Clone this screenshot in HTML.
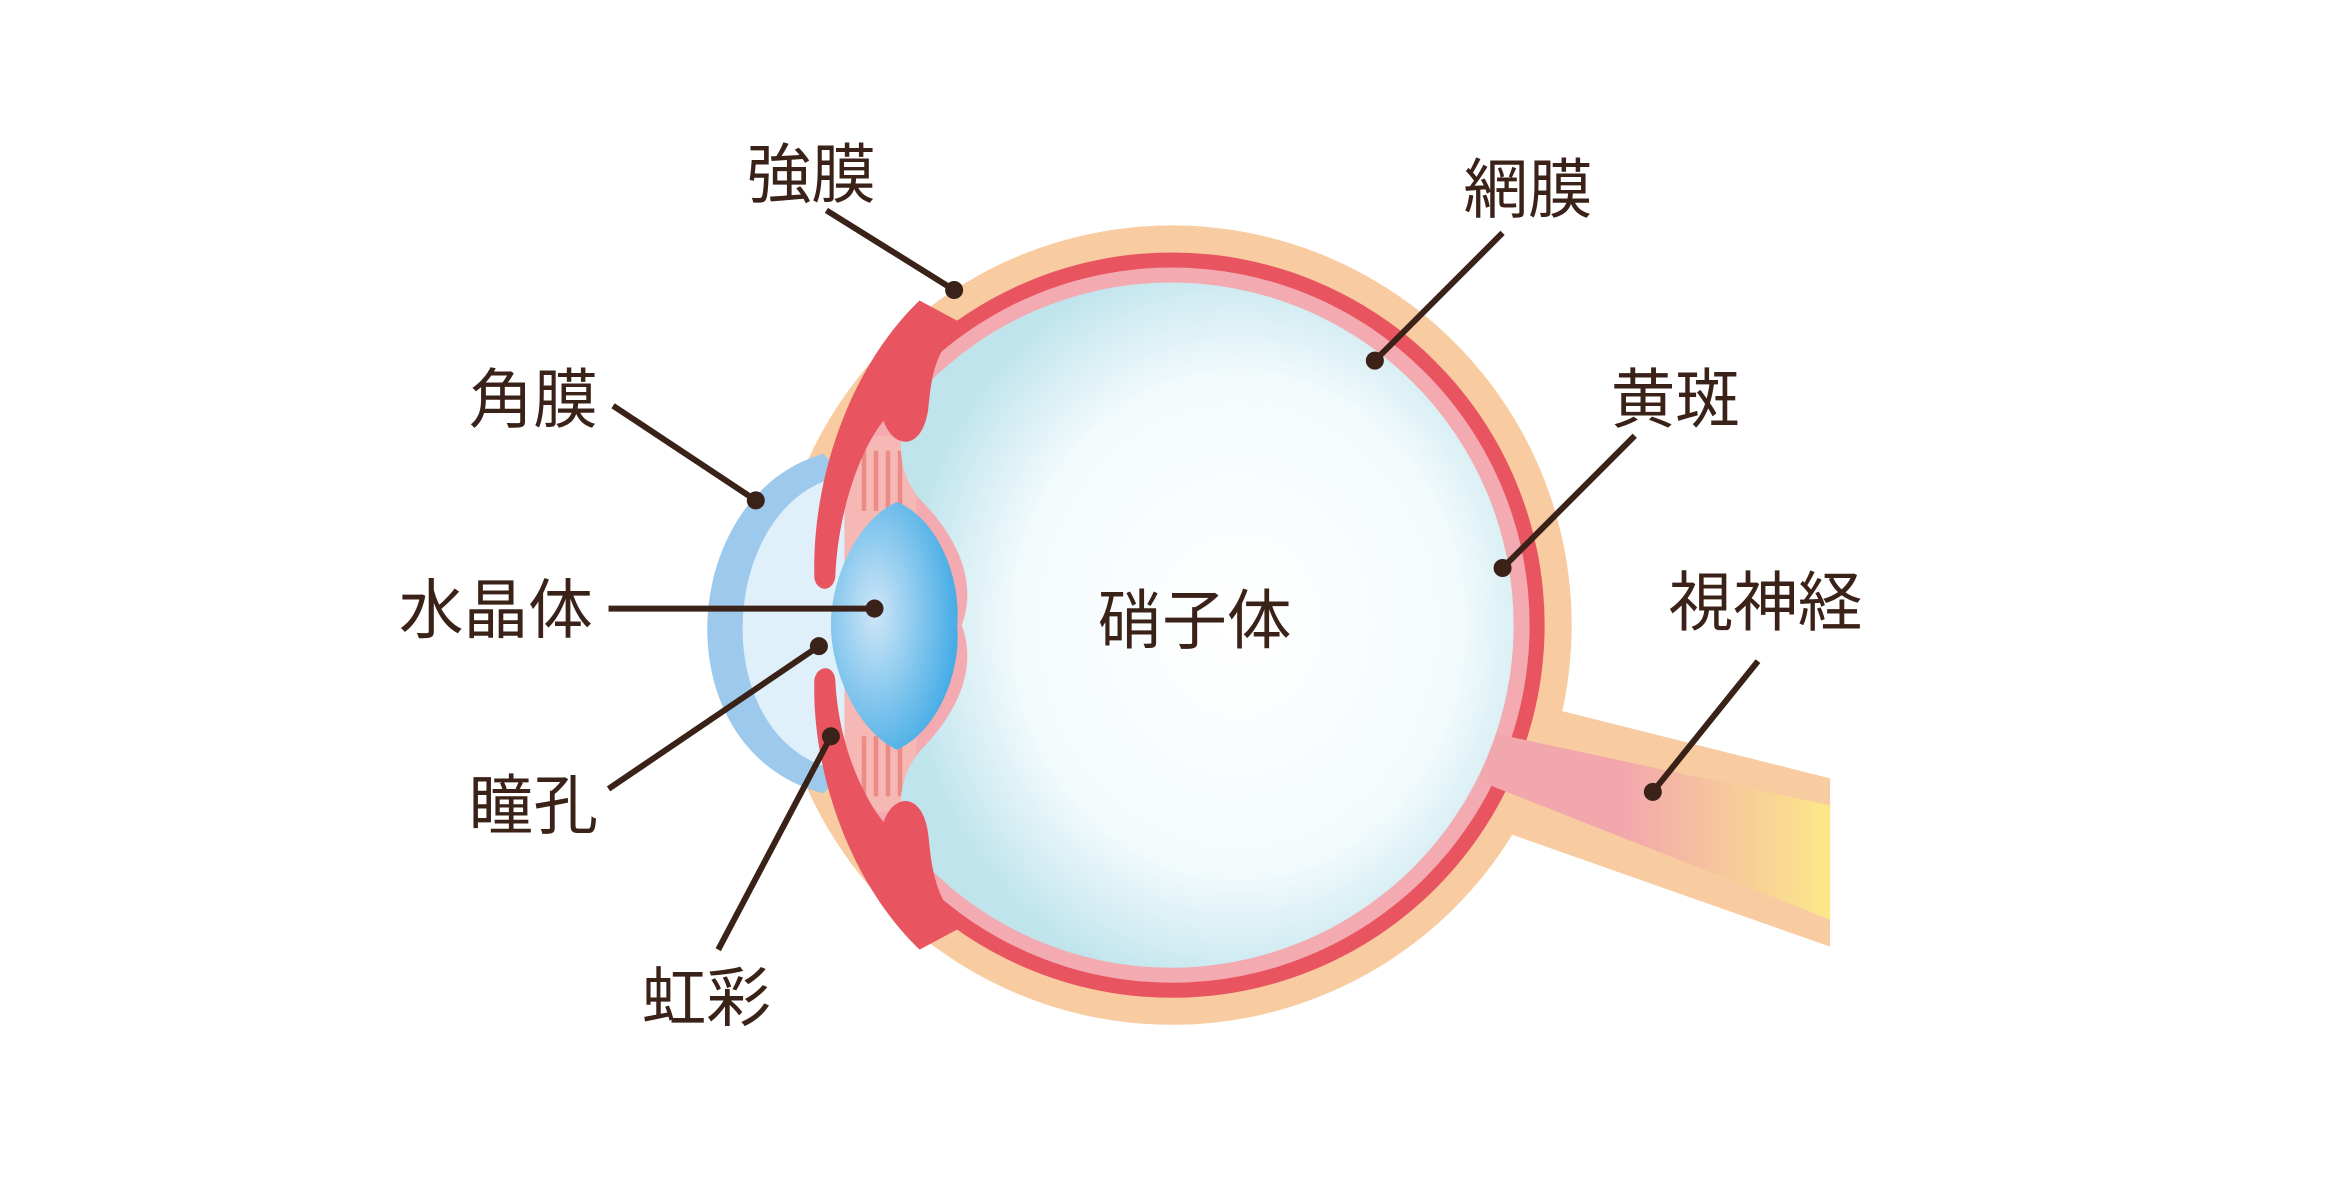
<!DOCTYPE html>
<html><head><meta charset="utf-8"><style>
html,body{margin:0;padding:0;background:#fff;}
svg{display:block}
text{font-family:"Liberation Sans","Noto Sans CJK JP",sans-serif;fill:#3a2218;font-size:43px}
</style></head><body>
<svg width="2344" height="1188" viewBox="0 0 1560 790.6" preserveAspectRatio="none">
<defs>
<radialGradient id="vit" cx="0.55" cy="0.5" r="0.55">
<stop offset="0" stop-color="#ffffff"/><stop offset="0.65" stop-color="#f4fbfd"/><stop offset="1" stop-color="#bfe4ec"/>
</radialGradient>
<radialGradient id="lens" cx="0.35" cy="0.45" r="0.65">
<stop offset="0" stop-color="#cfe6f7"/><stop offset="1" stop-color="#45ace6"/>
</radialGradient>
<linearGradient id="nerve" gradientUnits="userSpaceOnUse" x1="1080" y1="0" x2="1215" y2="0">
<stop offset="0" stop-color="#f2a7ad"/><stop offset="1" stop-color="#fbe78a"/>
</linearGradient>
</defs>
<!-- optic nerve -->
<polygon points="995,462 1218,518 1218,630 985,548" fill="#f8cca0"/>
<!-- sclera -->
<circle cx="780" cy="416" r="266" fill="#f8cca0"/>
<circle cx="780" cy="416" r="248" fill="#e85560"/>
<circle cx="780" cy="416" r="238" fill="#f3aab0"/>
<polygon points="985,486 1218,536 1218,612 985,520" fill="url(#nerve)"/>
<!-- front region -->
<path d="M560,290 L610,290 L610,540 L560,540 Z" fill="#f5b8b5"/>
<g stroke="#ec8a85" stroke-width="3">
<line x1="575" y1="300" x2="575" y2="340"/><line x1="583" y1="300" x2="583" y2="340"/><line x1="591" y1="300" x2="591" y2="340"/><line x1="599" y1="300" x2="599" y2="340"/>
<line x1="575" y1="490" x2="575" y2="530"/><line x1="583" y1="490" x2="583" y2="530"/><line x1="591" y1="490" x2="591" y2="530"/><line x1="599" y1="490" x2="599" y2="530"/>
</g>
<!-- vitreous -->
<path d="M615,258 A228,228 0 1 1 615,574 C595,547 595,522 612,500 C640,472 650,442 640,416 C650,390 640,360 612,332 C595,310 595,285 615,258 Z" fill="url(#vit)"/>
<!-- cornea -->
<path d="M548,302 C450,330 440,500 548,528 L560,515 L560,315 Z" fill="#9dc9ec"/>
<path d="M555,318 C478,340 470,490 555,512 L562,505 L562,325 Z" fill="#dff0fa"/>
<!-- ciliary / iris red -->
<path d="M612,200 C565,245 540,320 542,385 C544,395 556,394 556,382 C558,340 572,300 588,280 C595,300 615,300 618,270 C620,250 622,235 640,215 Z" fill="#e85560"/>
<path d="M612,632 C565,587 540,512 542,452 C544,442 556,442 556,454 C558,492 572,527 588,547 C595,527 615,527 618,557 C620,577 622,597 640,617 Z" fill="#e85560"/>
<!-- lens -->
<path d="M597,334 C625,346 640,386 637,416 C640,446 625,486 597,499 C570,486 553,446 553,416 C553,386 570,346 597,334 Z" fill="url(#lens)"/>
<!-- leader lines -->
<g stroke="#3a2218" stroke-width="4" fill="none">
<line x1="550" y1="140" x2="635" y2="193"/>
<line x1="1000" y1="155" x2="915" y2="240"/>
<line x1="408" y1="270" x2="503" y2="333"/>
<line x1="405" y1="405" x2="582" y2="405"/>
<line x1="405" y1="525" x2="545" y2="430"/>
<line x1="478" y1="632" x2="553" y2="490"/>
<line x1="1088" y1="290" x2="1000" y2="378"/>
<line x1="1170" y1="440" x2="1100" y2="527"/>
</g>
<g fill="#3a2218">
<circle cx="635" cy="193" r="6"/><circle cx="915" cy="240" r="6"/><circle cx="503" cy="333" r="6"/>
<circle cx="582" cy="405" r="6"/><circle cx="545" cy="430" r="6"/><circle cx="553" cy="490" r="6"/>
<circle cx="1000" cy="378" r="6"/><circle cx="1100" cy="527" r="6"/>
</g>
<text x="540" y="131" text-anchor="middle">強膜</text>
<text x="1017" y="141" text-anchor="middle">網膜</text>
<text x="355" y="281" text-anchor="middle">角膜</text>
<text x="330" y="421" text-anchor="middle">水晶体</text>
<text x="795" y="428" text-anchor="middle">硝子体</text>
<text x="1115" y="281" text-anchor="middle">黄斑</text>
<text x="1175" y="416" text-anchor="middle">視神経</text>
<text x="355" y="551" text-anchor="middle">瞳孔</text>
<text x="470" y="679" text-anchor="middle">虹彩</text>
</svg>
</body></html>
